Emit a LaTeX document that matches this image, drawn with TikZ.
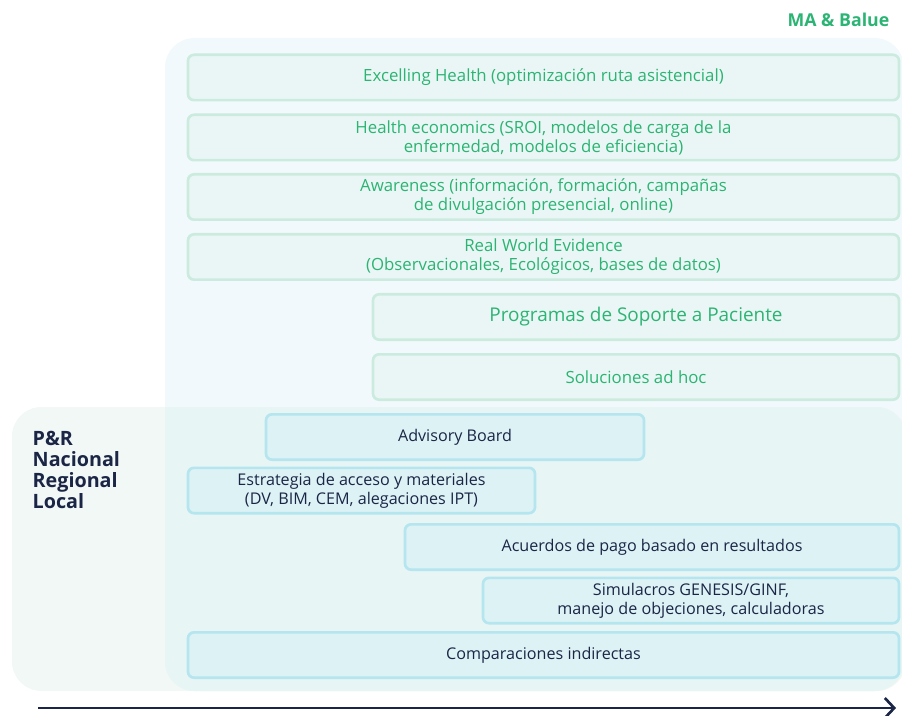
\documentclass[tikz,border=0pt]{standalone}
\usepackage{fontspec}
\setmainfont{Open Sans}
\usetikzlibrary{positioning,arrows.meta}
\definecolor{ink}{HTML}{1B2646}
\definecolor{mint}{HTML}{2BB473}
\definecolor{maline}{HTML}{CBEBDE}
\definecolor{mafill}{HTML}{EAF6F5}
\definecolor{prline}{HTML}{B5E5EF}
\definecolor{prfill}{HTML}{DDF2F5}
\definecolor{mapanel}{HTML}{F2F9FC}
\definecolor{prpanel}{HTML}{F2F8F5}
\definecolor{both}{HTML}{E7F5F5}
\tikzset{
  panel/.style={rounded corners=22pt},
  mabox/.style={draw=maline, line width=2pt, fill=mafill, rounded corners=4.5pt,
                text=mint, align=center, inner sep=0pt, minimum height=34pt,
                font=\fontsize{12.6}{14.2}\selectfont},
  prbox/.style={mabox, draw=prline, fill=prfill, text=ink,
                font=\fontsize{12.1}{14}\selectfont},
  wd/.style={minimum width=#1*0.75pt},
  head/.style={font=\bfseries\fontsize{13.3}{15.75}\selectfont, align=left},
}

\begin{document}
\begin{tikzpicture}[x=0.75pt, y=-0.75pt]
  \useasboundingbox (0,0) rectangle (902,716);
  % background panels
  \fill[mapanel, panel] (165,38) rectangle (904,691);
  \fill[prpanel, panel] (12,407) rectangle (906,691);
  \begin{scope}
    \clip[panel] (165,38) rectangle (904,691);
    \fill[both, panel] (12,407) rectangle (906,691);
  \end{scope}

  \node[head, text=mint, anchor=east] (ma) at (894,20) {MA \& Balue};
  \node[head, text=ink, anchor=north west, font=\bfseries\fontsize{14.8}{15.9}\selectfont]
    (pr) at (28,426) {P\&R\\Nacional\\Regional\\Local};

  % MA & Balue
  \node[mabox, wd=711] (exc) at (543.5,77.5) {Excelling Health (optimización ruta asistencial)};
  \node[mabox, wd=711] (heco) at (543.5,137.5) {Health economics (SROI, modelos de carga de la\\enfermedad, modelos de eficiencia)};
  \node[mabox, wd=711] (awa) at (543.5,197) {Awareness (información, formación, campañas\\de divulgación presencial, online)};
  \node[mabox, wd=711] (rwe) at (543.5,257) {Real World Evidence\\(Observacionales, Ecológicos, bases de datos)};
  \node[mabox, wd=526, font=\fontsize{14.2}{16}\selectfont] (psp) at (636,317) {Programas de Soporte a Paciente};
  \node[mabox, wd=526] (adhoc) at (636,377) {Soluciones ad hoc};

  % P&R
  \node[prbox, wd=378] (adv) at (455,437) {Advisory Board};
  \node[prbox, wd=347] (est) at (361.5,490.5) {Estrategia de acceso y materiales\\(DV, BIM, CEM, alegaciones IPT)};
  \node[prbox, wd=494] (acu) at (652,547) {Acuerdos de pago basado en resultados};
  \node[prbox, wd=416] (sim) at (691,600.5) {Simulacros GENESIS/GINF,\\manejo de objeciones, calculadoras};
  \node[prbox, wd=711] (comp) at (543.5,655) {Comparaciones indirectas};

  \coordinate (a0) at (38,708);
  \coordinate (a1) at (896,708);
  \draw[ink, line width=2.2pt, -{Straight Barb[length=7pt, width=15pt, line width=2pt]}] (a0) -- (a1);
\end{tikzpicture}
\end{document}
